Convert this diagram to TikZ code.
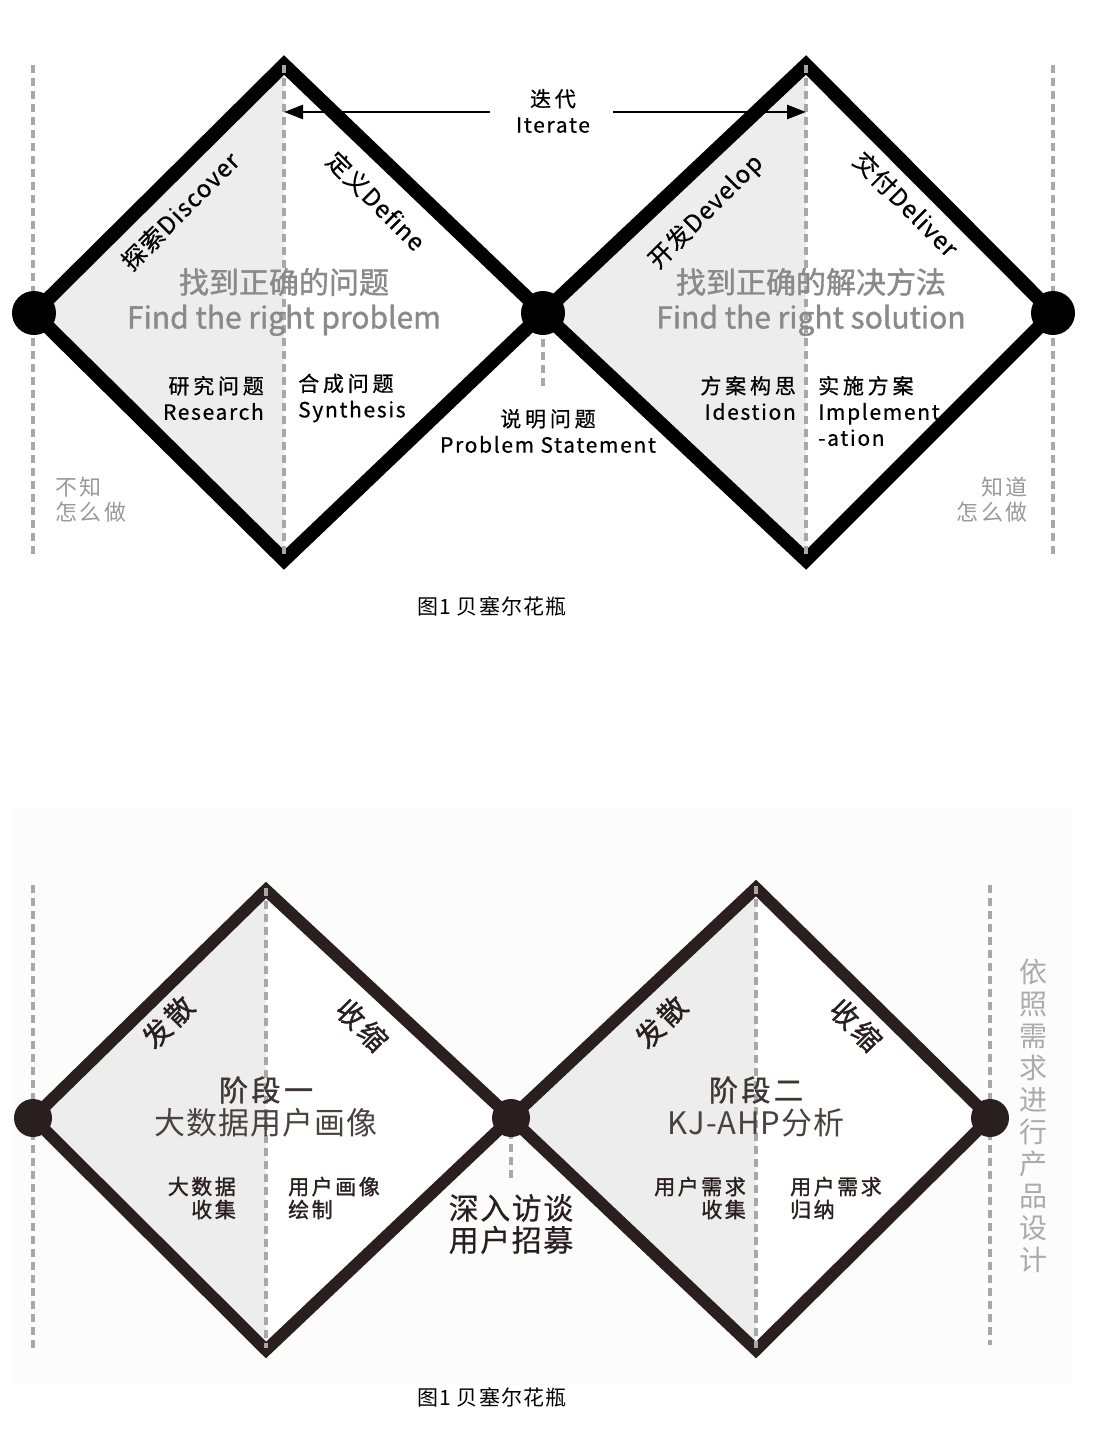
\documentclass[tikz,border=0pt]{standalone}
\usepackage{fontspec}
\setmainfont{Noto Sans CJK SC}
\newfontfamily\medcjk{Noto Sans CJK SC}[LetterSpace=18, FakeBold=0.6]
\newfontfamily\medlat{Noto Sans CJK SC}[LetterSpace=8, FakeBold=0.6]
\newfontfamily\medrot{Noto Sans CJK SC}[LetterSpace=5, FakeBold=0.6]
\newfontfamily\medbig{Noto Sans CJK SC}[FakeBold=1.2]
\newfontfamily\softfont{Noto Sans CJK SC}[LetterSpace=12]
\newfontfamily\boldsp{Noto Sans CJK SC}[LetterSpace=12, FakeBold=1.3]
\newfontfamily\capfont{Noto Sans CJK SC}[LetterSpace=6]
\newfontfamily\wide{Noto Sans CJK SC}[LetterSpace=3]
\usetikzlibrary{arrows.meta}
\definecolor{dkbrown}{HTML}{2A1F1F}
\definecolor{guidegray}{HTML}{A8A8A8}
\definecolor{fillgray}{HTML}{EDEDED}
\definecolor{bigtext}{HTML}{8A8A8A}
\definecolor{softtext}{HTML}{9A9A9A}
\definecolor{panel}{HTML}{FCFCFC}
\begin{document}
\begin{tikzpicture}[x=1pt,y=-1pt,
  dotA/.style={circle, fill=black, minimum size=44pt, inner sep=0pt},
  dotB/.style={circle, fill=dkbrown, minimum size=38pt, inner sep=0pt},
  guide/.style={draw=guidegray, line width=3.5pt, dash pattern=on 8pt off 5pt},
  outlineA/.style={draw=black, line width=14pt, line join=miter},
  outlineB/.style={draw=dkbrown, line width=12pt, line join=miter},
  lbl/.style={font=\fontsize{21}{26}\selectfont, inner sep=0pt},
  lblB/.style={font=\fontsize{21}{23}\selectfont\boldsp, inner sep=0pt, text=dkbrown},
  bigA/.style={font=\fontsize{30}{35}\selectfont\medbig, text=bigtext, inner sep=0pt, align=center},
  diagA/.style={font=\fontsize{24}{24}\selectfont\medrot, inner sep=0pt},
  diagB/.style={font=\fontsize{28}{28}\selectfont\boldsp, inner sep=0pt, text=dkbrown},
  soft/.style={font=\fontsize{22}{25}\selectfont\softfont, text=softtext, inner sep=0pt},
  caption/.style={font=\fontsize{21}{21}\selectfont\capfont, inner sep=0pt},
  itarrow/.style={draw=black, line width=2.6pt, -{Triangle[length=19pt,width=14pt]}}
]
\useasboundingbox (0,0) rectangle (1096,1432);
\fill[white] (0,0) rectangle (1096,1432);

% ================= TOP DIAGRAM =================
\coordinate (L1) at (34,313);
\coordinate (T1) at (284,65);
\coordinate (B1) at (284,560);
\coordinate (M1) at (543,313);
\coordinate (T2) at (806,65);
\coordinate (B2) at (806,560);
\coordinate (R1) at (1053,313);

\fill[fillgray] (L1) -- (T1) -- (B1) -- cycle;
\fill[fillgray] (M1) -- (T2) -- (B2) -- cycle;
\draw[outlineA] (L1) -- (T1) -- (M1) -- (B1) -- cycle;
\draw[outlineA] (M1) -- (T2) -- (R1) -- (B2) -- cycle;

\coordinate (gA1) at (33,65);   \coordinate (gA2) at (33,557);
\coordinate (gB1) at (284,65);  \coordinate (gB2) at (284,556);
\coordinate (gC1) at (543,313); \coordinate (gC2) at (543,390);
\coordinate (gD1) at (806,65);  \coordinate (gD2) at (806,556);
\coordinate (gE1) at (1053,65); \coordinate (gE2) at (1053,555);
\draw[guide] (gA1) -- (gA2);
\draw[guide] (gB1) -- (gB2);
\draw[guide] (gC1) -- (gC2);
\draw[guide] (gD1) -- (gD2);
\draw[guide] (gE1) -- (gE2);

\node[dotA] (dL1) at (L1) {};
\node[dotA] (dM1) at (M1) {};
\node[dotA] (dR1) at (R1) {};

% iterate
\node[lbl, align=center] (iter) at (553,111) {\medcjk 迭代\\\medlat Iterate};
\coordinate (itLs) at (490,112); \coordinate (itLe) at (284,112);
\coordinate (itRs) at (613,112); \coordinate (itRe) at (806,112);
\draw[itarrow] (itLs) -- (itLe);
\draw[itarrow] (itRs) -- (itRe);

% diagonal labels
\node[diagA, rotate=45] (disc) at (180,211) {探索Discover};
\node[diagA, rotate=-45] (defi) at (376,201) {定义Define};
\node[diagA, rotate=45] (deve) at (706,212) {开发Develop};
\node[diagA, rotate=-45] (deli) at (906,204) {交付Deliver};

% big gray texts
\node[bigA] (big1) at (284,302) {找到正确的问题\\Find the right problem};
\node[bigA] (big2) at (811,302) {找到正确的解决方法\\Find the right solution};

% phase labels
\node[lbl, align=right, anchor=east] (res) at (264,398) {\medcjk 研究问题\\\medlat Research};
\node[lbl, align=left, anchor=west] (syn) at (298,398) {\medcjk 合成问题\\\medlat Synthesis};
\node[lbl, align=center] (ps) at (548,431) {\medcjk 说明问题\\\medlat Problem Statement};
\node[lbl, align=right, anchor=east] (ide) at (796,398) {\medcjk 方案构思\\\medlat Idestion};
\node[lbl, align=left, anchor=west] (imp) at (818,411) {\medcjk 实施方案\\\medlat Implement\\\medlat -ation};

\node[soft, align=left, anchor=west] (bz) at (55,500) {不知\\怎么做};
\node[soft, align=right, anchor=east] (zd) at (1028,500) {知道\\怎么做};

\node[caption] (cap1) at (492,606) {图1 贝塞尔花瓶};

% ================= BOTTOM DIAGRAM =================
\fill[panel] (12,808) rectangle (1072,1385);
\coordinate (L2) at (33,1118);
\coordinate (T3) at (266,890);
\coordinate (B3) at (266,1350);
\coordinate (M2) at (511,1118);
\coordinate (T4) at (756,888);
\coordinate (B4) at (756,1350);
\coordinate (R2) at (990,1118);

\fill[fillgray] (L2) -- (T3) -- (B3) -- cycle;
\fill[fillgray] (M2) -- (T4) -- (B4) -- cycle;
\fill[white] (T3) -- (M2) -- (B3) -- cycle;
\fill[white] (T4) -- (R2) -- (B4) -- cycle;
\draw[outlineB] (L2) -- (T3) -- (M2) -- (B3) -- cycle;
\draw[outlineB] (M2) -- (T4) -- (R2) -- (B4) -- cycle;

\coordinate (hA1) at (33,885);   \coordinate (hA2) at (33,1352);
\coordinate (hB1) at (266,888);  \coordinate (hB2) at (266,1348);
\coordinate (hC1) at (511,1118); \coordinate (hC2) at (511,1182);
\coordinate (hD1) at (756,886);  \coordinate (hD2) at (756,1348);
\coordinate (hE1) at (990,885);  \coordinate (hE2) at (990,1345);
\draw[guide] (hA1) -- (hA2);
\draw[guide] (hB1) -- (hB2);
\draw[guide] (hC1) -- (hC2);
\draw[guide] (hD1) -- (hD2);
\draw[guide] (hE1) -- (hE2);

\node[dotB] (dL2) at (L2) {};
\node[dotB] (dM2) at (M2) {};
\node[dotB] (dR2) at (R2) {};

\node[diagB, rotate=45] (fs1) at (168,1022) {发散};
\node[diagB, rotate=-45] (ss1) at (362,1025) {收缩};
\node[diagB, rotate=45] (fs2) at (661,1022) {发散};
\node[diagB, rotate=-45] (ss2) at (856,1025) {收缩};

\node[font=\fontsize{29}{29}\selectfont\boldsp, text=dkbrown!90, inner sep=0pt] (jd1) at (266,1090) {阶段一};
\node[font=\fontsize{31}{31}\selectfont\wide, text=dkbrown!85, inner sep=0pt] (jd1b) at (266,1123) {大数据用户画像};
\node[font=\fontsize{29}{29}\selectfont\boldsp, text=dkbrown!90, inner sep=0pt] (jd2) at (756,1090) {阶段二};
\node[font=\fontsize{31}{31}\selectfont\wide, text=dkbrown!85, inner sep=0pt] (jd2b) at (756,1123) {KJ-AHP分析};

\node[lblB, align=right, anchor=east] (dsj) at (236,1198) {大数据\\收集};
\node[lblB, align=left, anchor=west] (yhhx) at (288,1198) {用户画像\\绘制};
\node[lblB, align=right, anchor=east] (xq1) at (746,1198) {用户需求\\收集};
\node[lblB, align=left, anchor=west] (xq2) at (790,1198) {用户需求\\归纳};

\node[font=\fontsize{30}{32}\selectfont\medrot, text=dkbrown, inner sep=0pt, align=center] (sr) at (511,1224) {深入访谈\\用户招募};

\node[font=\fontsize{28}{32}\selectfont, text=black!33, inner sep=0pt, align=center] (vt) at (1033,1116) {依\\照\\需\\求\\进\\行\\产\\品\\设\\计};

\node[caption] (cap2) at (492,1397) {图1 贝塞尔花瓶};
\end{tikzpicture}
\end{document}
